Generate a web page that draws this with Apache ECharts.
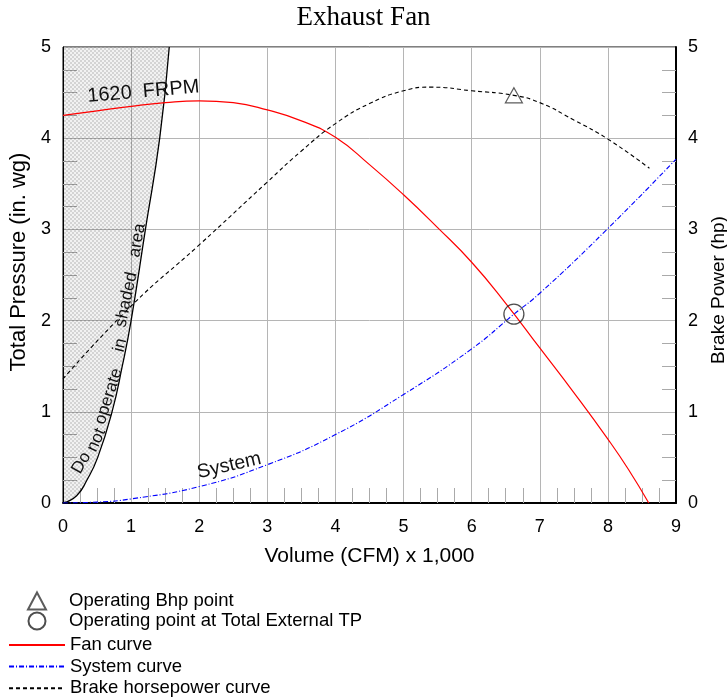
<!DOCTYPE html>
<html>
<head>
<meta charset="utf-8">
<script src="https://cdn.jsdelivr.net/npm/echarts@6/dist/echarts.min.js"></script>
<style>
html,body{margin:0;padding:0;background:#fff;}
#chart{width:727px;height:700px;}
</style>
</head>
<body>
<div id="chart"></div>
<script>
// ---- data ----
const xTicks = [0, 1, 2, 3, 4, 5, 6, 7, 8, 9];
const yTicks = [0, 1, 2, 3, 4, 5];

const fanX = [0, 0.5, 1, 1.5, 2, 2.5, 3, 3.5, 4, 4.5, 5, 5.5, 6, 6.5, 7, 7.5, 8, 8.3, 8.6];
const fanY = [4.25, 4.30, 4.35, 4.39, 4.41, 4.39, 4.31, 4.19, 4.01, 3.71, 3.38, 3.02, 2.64, 2.19, 1.70, 1.21, 0.70, 0.37, 0];

const sysX = [0, 0.5, 1, 2, 3, 4, 5, 6, 6.62, 7, 8, 9];
const sysY = [0, 0.01, 0.045, 0.18, 0.42, 0.75, 1.19, 1.69, 2.07, 2.30, 3.01, 3.77];

const bhpX = [0, 1, 2, 3, 3.5, 4, 4.5, 5, 5.4, 6, 6.62, 7, 7.5, 8, 8.61];
const bhpY = [1.36, 2.16, 2.83, 3.52, 3.86, 4.16, 4.38, 4.52, 4.56, 4.52, 4.47, 4.39, 4.20, 3.99, 3.67];

const surgeX = [0, 0.2, 0.35, 0.51, 0.72, 0.87, 1.0, 1.21, 1.42, 1.56];
const surgeY = [0, 0.08, 0.25, 0.5, 1, 1.5, 2, 3, 4, 5];

const bhpPoint = [6.62, 4.47];
const opPoint = [6.62, 2.07];

const names = {
  bhpPt: 'Operating Bhp point',
  opPt: 'Operating point at Total External TP',
  fan: 'Fan curve',
  sys: 'System curve',
  bhp: 'Brake horsepower curve'
};

const zip = (xs, ys) => xs.map((x, i) => [x, ys[i]]);

// hatch pattern
const pc = document.createElement('canvas');
pc.width = 4; pc.height = 4;
const pctx = pc.getContext('2d');
pctx.fillStyle = 'rgba(0,0,0,0.17)';
pctx.fillRect(0, 0, 2, 2); pctx.fillRect(2, 2, 2, 2);
pctx.fillStyle = 'rgba(0,0,0,0.05)';
pctx.fillRect(2, 0, 2, 2); pctx.fillRect(0, 2, 2, 2);

const FONT = "'Liberation Sans', Arial, sans-serif";
const chart = echarts.init(document.getElementById('chart'));

const yAxisCommon = {
  type: 'value', min: yTicks[0], max: yTicks[yTicks.length - 1], interval: 1,
  axisTick: { show: false, inside: true },
  minorTick: { show: true, splitNumber: 4, length: 14, lineStyle: { color: '#aaaaaa', width: 1 } },
  axisLabel: { fontSize: 18, color: '#000', fontFamily: FONT, margin: 12 },
  nameLocation: 'middle'
};

const legendText = { fontSize: 18.5, color: '#000', fontFamily: FONT, lineHeight: 20 };

chart.setOption({
  backgroundColor: '#fff',
  animation: false,
  title: {
    text: 'Exhaust Fan', left: 'center', top: 4, padding: 0,
    textStyle: { fontFamily: "'Liberation Serif', 'Times New Roman', serif", fontSize: 27, fontWeight: 'normal', color: '#000' }
  },
  grid: { left: 63, right: 51, top: 47, bottom: 197, outerBoundsMode: 'none', containLabel: false,
          show: true, borderColor: '#000', borderWidth: 1, backgroundColor: 'transparent' },
  xAxis: {
    type: 'value', min: xTicks[0], max: xTicks[xTicks.length - 1], interval: 1,
    name: 'Volume (CFM) x 1,000', nameLocation: 'middle', nameGap: 43,
    nameTextStyle: { fontSize: 21, color: '#000', fontFamily: FONT },
    axisLine: { show: true, lineStyle: { color: '#000', width: 2 } },
    axisTick: { show: false, inside: true },
    minorTick: { show: true, splitNumber: 4, length: 15, lineStyle: { color: '#aaaaaa', width: 1 } },
    splitLine: { show: true, lineStyle: { color: '#b5b5b5', width: 1 } },
    axisLabel: { fontSize: 18, color: '#000', fontFamily: FONT, margin: 15 }
  },
  yAxis: [
    Object.assign({}, yAxisCommon, {
      position: 'left', name: 'Total Pressure (in. wg)', nameGap: 27,
      nameTextStyle: { fontSize: 22, color: '#000', fontFamily: FONT, padding: [0, 0, 0, 26] },
      axisLine: { show: true, lineStyle: { color: '#000', width: 1 } },
      splitLine: { show: true, lineStyle: { color: '#b5b5b5', width: 1 } }
    }),
    Object.assign({}, yAxisCommon, {
      position: 'right', name: 'Brake Power (hp)', nameGap: 30,
      nameTextStyle: { fontSize: 19, color: '#000', fontFamily: FONT, padding: [0, 30, 0, 0] },
      axisLine: { show: true, lineStyle: { color: '#000', width: 2 } },
      splitLine: { show: false }
    })
  ],
  legend: [
    {
      data: [names.bhpPt, names.opPt],
      orient: 'vertical', left: 27, top: 591, padding: 0, itemWidth: 18, itemHeight: 17, itemGap: 0,
      selectedMode: false,
      textStyle: Object.assign({}, legendText, { padding: [0, 0, 0, 18] })
    },
    {
      data: [names.fan, names.sys, names.bhp],
      orient: 'vertical', left: 8, top: 635, padding: 0, itemWidth: 56, itemHeight: 12, itemGap: 1.6,
      selectedMode: false,
      itemStyle: { color: 'rgba(0,0,0,0)', borderColor: 'rgba(0,0,0,0)', borderWidth: 0 },
      textStyle: legendText
    }
  ],
  series: [
    {
      name: 'surge', type: 'line', data: zip(surgeX, surgeY), smooth: true, symbol: 'none',
      lineStyle: { color: '#000', width: 1.3 },
      areaStyle: { origin: 'end', color: { image: pc, repeat: 'repeat' }, opacity: 1 },
      z: 3, silent: true
    },
    {
      name: names.fan, type: 'line', data: zip(fanX, fanY), smooth: true, symbol: 'none',
      lineStyle: { color: '#ff0000', width: 1.2 }, itemStyle: { color: '#ff0000' }, z: 4
    },
    {
      name: names.sys, type: 'line', data: zip(sysX, sysY), smooth: true, symbol: 'none',
      lineStyle: { color: '#0000ff', width: 1.1, type: [5, 2, 1, 2] }, itemStyle: { color: '#0000ff' }, z: 4
    },
    {
      name: names.bhp, type: 'line', yAxisIndex: 1, data: zip(bhpX, bhpY), smooth: true, symbol: 'none',
      lineStyle: { color: '#000', width: 1.1, type: [4, 3] }, itemStyle: { color: '#000' }, z: 4
    },
    {
      name: names.bhpPt, type: 'scatter', yAxisIndex: 1, data: [bhpPoint], symbol: 'triangle', symbolSize: [17, 15],
      itemStyle: { color: 'rgba(0,0,0,0)', borderColor: '#333', borderWidth: 1.2 }, z: 5
    },
    {
      name: names.opPt, type: 'scatter', data: [opPoint], symbol: 'circle', symbolSize: 20,
      itemStyle: { color: 'rgba(0,0,0,0)', borderColor: '#222', borderWidth: 1.3 }, z: 5
    }
  ]
});

// text annotations positioned in data coordinates
function px(x, y) { return chart.convertToPixel({ gridIndex: 0 }, [x, y]); }
const notes = [
  { t: '1620  FRPM', at: [1.18, 4.51], rot: 5, size: 20 },
  { t: 'System', at: [2.44, 0.41], rot: 13, size: 19.5 },
  { t: 'Do', at: [0.27, 0.44], rot: 60, size: 17 },
  { t: 'not', at: [0.49, 0.69], rot: 66, size: 17 },
  { t: 'operate', at: [0.67, 1.17], rot: 72, size: 17 },
  { t: 'in', at: [0.84, 1.73], rot: 76, size: 17 },
  { t: 'shaded', at: [0.93, 2.23], rot: 78, size: 17 },
  { t: 'area', at: [1.09, 2.88], rot: 80, size: 17 }
];
chart.setOption({
  graphic: notes.map(n => {
    const p = px(n.at[0], n.at[1]);
    return {
      type: 'text', x: p[0], y: p[1], rotation: n.rot * Math.PI / 180, z: 10, silent: true,
      style: { text: n.t, fill: '#111', font: n.size + 'px ' + FONT, align: 'center', verticalAlign: 'middle' }
    };
  })
});
</script>
</body>
</html>
